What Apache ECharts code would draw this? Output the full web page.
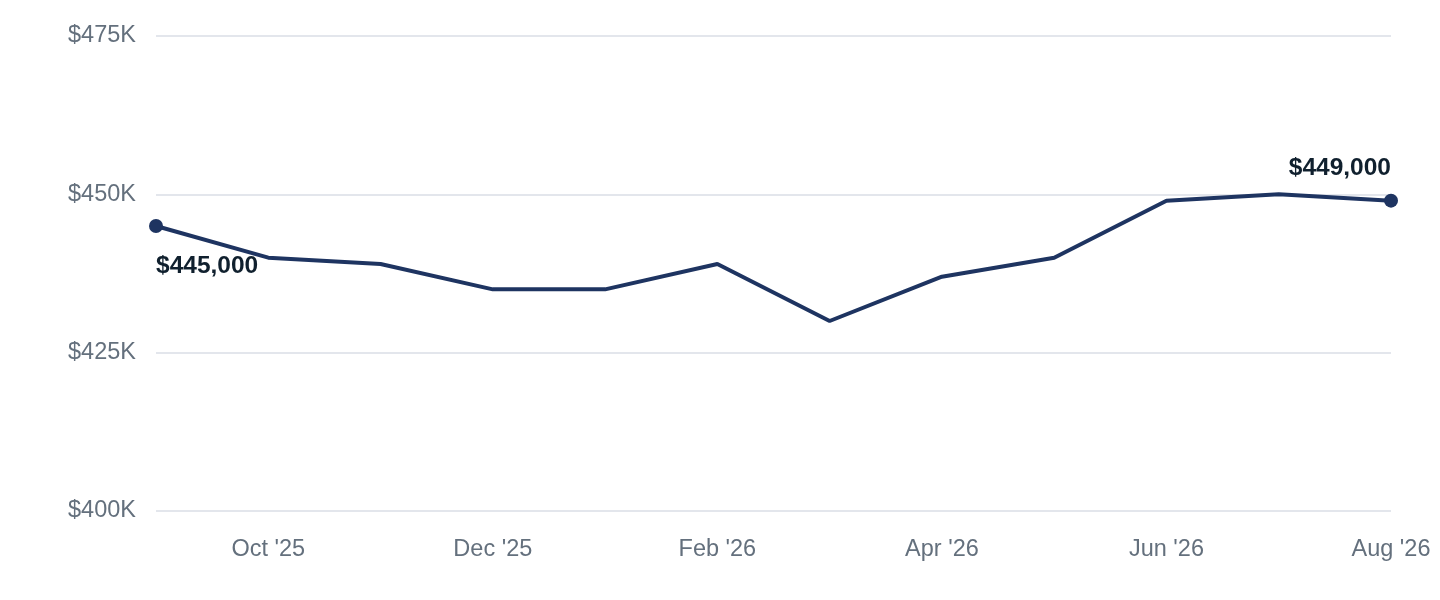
<!DOCTYPE html>
<html>
<head>
<meta charset="utf-8">
<script src="https://cdn.jsdelivr.net/npm/echarts@6/dist/echarts.min.js"></script>
<style>
html,body{margin:0;padding:0;background:#fff;}
#chart{width:1440px;height:600px;}
</style>
</head>
<body>
<div id="chart"></div>
<script>
// months and median price values
var months = ["Sep '25","Oct '25","Nov '25","Dec '25","Jan '26","Feb '26","Mar '26","Apr '26","May '26","Jun '26","Jul '26","Aug '26"];
var prices = [445000, 440000, 439000, 435000, 435000, 439000, 430000, 437000, 440000, 449000, 450000, 449000];
var yTicks = [400000, 425000, 450000, 475000];

var lastIdx = prices.length - 1;
var seriesData = prices.map(function(v, i){
	var item = {value: v};
	if(i === 0){
		item.symbol = 'circle';
		item.label = {show: true, position: 'bottom', align: 'left', offset: [0, 16]};
	}else if(i === lastIdx){
		item.symbol = 'circle';
		item.label = {show: true, position: 'top', align: 'right', offset: [0, -8]};
	}else{
		item.symbol = 'none';
	}
	return item;
});

var myChart = echarts.init(document.getElementById('chart'));
var option = {
	animation: false,
	grid: {
		left: 156,
		right: 49,
		top: 36,
		bottom: 89
	},
	xAxis: {
		type: 'category',
		boundaryGap: false,
		data: months,
		axisLine: {show: false},
		axisTick: {show: false},
		axisLabel: {
			color: '#64707d',
			fontSize: 23.5,
			fontFamily: 'Arial, Liberation Sans, sans-serif',
			margin: 27,
			interval: function(idx){ return idx % 2 === 1; }
		},
		splitLine: {show: false}
	},
	yAxis: {
		type: 'value',
		min: yTicks[0],
		max: yTicks[yTicks.length - 1],
		interval: 25000,
		axisLine: {show: false},
		axisTick: {show: false},
		axisLabel: {
			color: '#64707d',
			fontSize: 23.5,
			fontFamily: 'Arial, Liberation Sans, sans-serif',
			margin: 20,
			formatter: function(v){ return '$' + (v / 1000) + 'K'; }
		},
		splitLine: {
			show: true,
			lineStyle: {color: '#e3e6ec', width: 2}
		}
	},
	series: [
		{
			type: 'line',
			data: seriesData,
			symbolSize: 14,
			showSymbol: true,
			lineStyle: {color: '#1e3461', width: 4},
			itemStyle: {color: '#1e3461'},
			label: {
				color: '#10202e',
				fontSize: 24.5,
				fontWeight: 'bold',
				fontFamily: 'Arial, Liberation Sans, sans-serif',
				formatter: function(p){ return '$' + p.value.toLocaleString('en-US'); }
			}
		}
	]
};
myChart.setOption(option);
</script>
</body>
</html>
